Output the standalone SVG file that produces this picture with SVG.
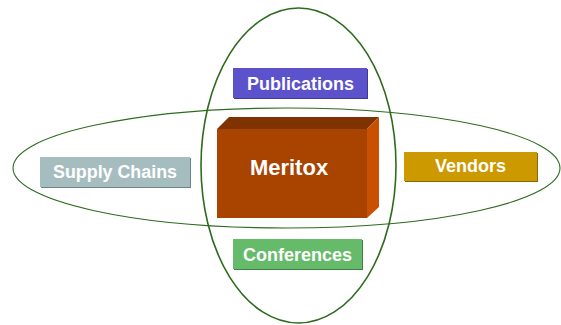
<svg xmlns="http://www.w3.org/2000/svg" width="561" height="325" viewBox="0 0 561 325">
<style>
.ring{fill:none;stroke:#2E6B1E}
.lbl{font-family:"Liberation Sans",Arial,sans-serif;font-weight:bold;fill:#fff;text-anchor:middle}
</style>
<rect width="561" height="325" fill="#fff"/>
<g id="rings">
<ellipse class="ring" cx="286.5" cy="168" rx="273.5" ry="60" stroke-width="1.1"/>
<ellipse class="ring" cx="298.5" cy="165.5" rx="97.5" ry="157.5" stroke-width="1.6"/>
</g>
<g id="publications">
<rect x="234" y="69" width="134" height="30" fill="#3F3A99"/>
<rect x="233" y="68" width="134" height="30" fill="#5B52CC"/>
<text class="lbl" x="300.5" y="90" font-size="18">Publications</text>
</g>
<g id="meritox">
<polygon points="217,129 229,117 379,117 367,129" fill="#7F3300"/>
<polygon points="367,129 379,117 379,207 367,218" fill="#C85000"/>
<rect x="217" y="129" width="150" height="89" fill="#A84300"/>
<text class="lbl" x="289" y="175" font-size="22">Meritox</text>
</g>
<g id="supply-chains">
<rect x="41" y="158" width="150" height="30" fill="#6F8587"/>
<rect x="40" y="157" width="150" height="30" fill="#A6BDBF"/>
<text class="lbl" x="115" y="178" font-size="18" textLength="124" lengthAdjust="spacingAndGlyphs">Supply Chains</text>
</g>
<g id="vendors">
<rect x="405" y="153" width="133" height="29" fill="#8A6800"/>
<rect x="404" y="152" width="133" height="29" fill="#CC9900"/>
<text class="lbl" x="470.5" y="172" font-size="18">Vendors</text>
</g>
<g id="conferences">
<rect x="234" y="240" width="129" height="30" fill="#3F7F42"/>
<rect x="233" y="239" width="129" height="30" fill="#66BB6A"/>
<text class="lbl" x="297.5" y="261" font-size="18">Conferences</text>
</g>
</svg>
